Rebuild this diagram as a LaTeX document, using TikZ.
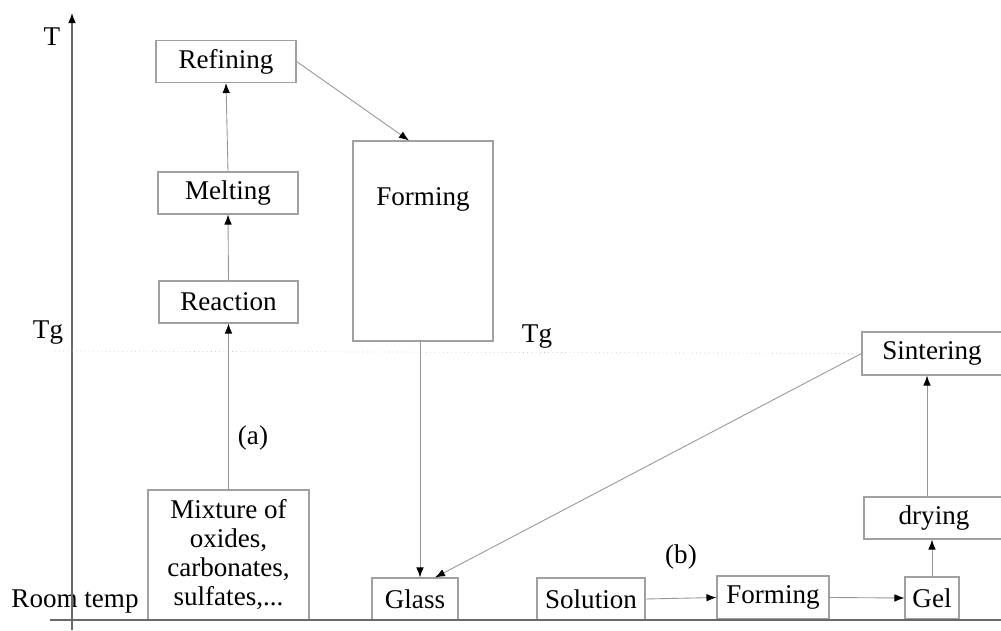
\documentclass[tikz,border=0pt]{standalone}
\usepackage{fontspec}
\setmainfont{Liberation Serif}
\usetikzlibrary{arrows.meta,calc}
\definecolor{LineClr}{RGB}{150,150,150}
\definecolor{BoxClr}{RGB}{160,160,160}
\definecolor{AxisClr}{RGB}{105,105,105}

\begin{document}
\begin{tikzpicture}[font=\fontsize{15.4}{16.5}\selectfont,
  box/.style={draw=BoxClr,line width=0.6pt,minimum height=0.84cm,inner sep=2pt},
  conn/.style={LineClr,line width=0.5pt,-{Latex[black,length=2mm,width=1.5mm]}}]
\useasboundingbox (0,0) rectangle (20.02,12.6);

\node[box,minimum width=2.8cm] (refine) at (4.52,11.37) {Refining};
\node[box,minimum width=2.8cm] (melt) at (4.56,8.74) {Melting};
\node[box,minimum width=2.78cm] (react) at (4.57,6.56) {Reaction};
\node[box,minimum width=3.22cm,minimum height=2.6cm,align=center] (mix) at (4.57,1.5)
  {Mixture of\\oxides,\\carbonates,\\sulfates,...};
\node[box,minimum width=2.8cm,minimum height=4cm,
  label={[anchor=center,yshift=-1.18cm]north:Forming}] (formA) at (8.46,7.78) {};
\node[box,minimum width=1.72cm] (glass) at (8.3,0.62) {Glass};
\node[box,minimum width=2.16cm] (sol) at (11.82,0.62) {Solution};
\node[box,minimum width=2.24cm,minimum height=0.86cm] (formB) at (15.46,0.65) {Forming};
\node[box,minimum width=1.08cm] (gel) at (18.64,0.64) {Gel};
\node[box,minimum width=2.8cm] (dry) at (18.68,2.24) {drying};
\node[box,minimum width=2.8cm,minimum height=0.86cm] (sinter) at (18.64,5.53) {Sintering};

\node (T) at (1.04,11.86) {T};
\node (TgA) at (0.96,5.94) {Tg};
\node (TgB) at (10.74,5.86) {Tg};
\node (room) at (1.5,0.56) {Room temp};
\node (a) at (5.06,3.84) {(a)};
\node (b) at (13.62,1.46) {(b)};

\draw[AxisClr,line width=0.6pt,-{Latex[black,length=2mm,width=1.5mm]}] (1.44,0) -- (1.44,12.34);
\draw[AxisClr,line width=0.6pt] (1.0,0.2) -- (20.02,0.2);
\draw[LineClr!60,dotted] (1.1,5.58) -- (sinter.west);

\draw[conn] (mix.north) -- (react.south);
\draw[conn] (react.north) -- (melt.south);
\draw[conn] (melt.north) -- (refine.south);
\draw[conn] (refine.east) -- ([xshift=-0.28cm]formA.north);
\draw[conn] ([xshift=-0.06cm]formA.south) -- ([xshift=-0.06cm]formA.south |- glass.north);
\draw[conn] (sinter.west) -- ([xshift=0.4cm]glass.north);
\draw[conn] (sol.east) -- (formB.west);
\draw[conn] (formB.east) -- (gel.west);
\draw[conn] (gel.north) -- (gel.north |- dry.south);
\draw[conn] ([xshift=-0.14cm]dry.north) -- ([xshift=-0.14cm]dry.north |- sinter.south);

\end{tikzpicture}
\end{document}
